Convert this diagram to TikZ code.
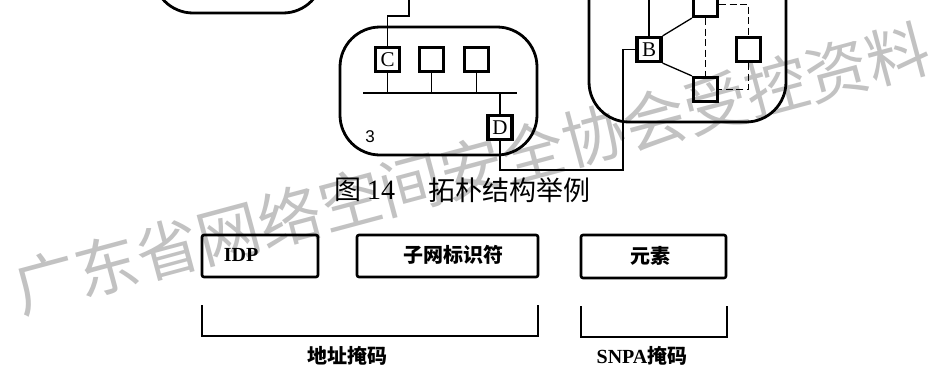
\documentclass[tikz,border=0pt]{standalone}
\usepackage{fontspec}
\setmainfont{Liberation Serif}
\newfontfamily\cjk{Noto Sans CJK SC}
\newfontfamily\sansf{Liberation Sans}
\begin{document}
\begin{tikzpicture}[x=1pt,y=-1pt,
  cloudbox/.style={line width=2.8pt, rounded corners=40pt},
  dev/.style={draw, line width=3.2pt, minimum width=24pt, minimum height=24pt, inner sep=0pt, font=\fontsize{21}{21}\selectfont},
  link/.style={line width=1.3pt},
  dlink/.style={line width=1.3pt, dash pattern=on 7pt off 3.5pt},
  field/.style={draw, line width=2.6pt, rounded corners=2pt, inner sep=0pt},
  bracketline/.style={line width=2.4pt},
  flabel/.style={font=\fontsize{20}{20}\selectfont\bfseries, inner sep=0pt},
  fcjk/.style={font=\cjk\fontsize{20}{20}\selectfont\bfseries, inner sep=0pt},
  capcjk/.style={font=\cjk\fontsize{27}{27}\selectfont, inner sep=0pt}
]
\useasboundingbox (0,0) rectangle (941,367);
\clip (0,0) rectangle (941,367);
\fill[white] (0,0) rectangle (941,367);

% watermark
\node[text=black!24, rotate=15, font=\cjk\fontsize{63}{63}\selectfont, inner sep=0pt] (wm) at (472,168) {广东省网络空间安全协会受控资料};

% clouds
\draw[cloudbox] (153,-60) rectangle (323,13);
\draw[cloudbox] (340,27) rectangle (537,155);
\draw[cloudbox] (589,-80) rectangle (786,122);

% network 3
\node[dev] (C) at (387.5,59.5) {C};
\node[dev] (n2) at (431.5,59.5) {};
\node[dev] (n3) at (476.5,59.5) {};
\node[dev] (D) at (500,127.5) {D};
\coordinate (busL) at (363,93);
\coordinate (busR) at (517,93);
\draw[link] (busL) -- (busR);
\draw[link] (C.south) -- (C.south |- busL);
\draw[link] (n2.south) -- (n2.south |- busL);
\draw[link] (n3.south) -- (n3.south |- busL);
\draw[link] (D.north) -- (D.north |- busL);
\node[font=\sansf\fontsize{17}{17}\selectfont, inner sep=0pt] (l3) at (370,137) {3};

% right network
\node[dev] (B) at (649,49.5) {B};
\node[dev] (T) at (705.5,4.5) {};
\node[dev] (R) at (748.5,49.5) {};
\node[dev] (Bot) at (705.5,89.5) {};
\draw[link] (B.north east) -- (T.south west);
\draw[link] (B.south east) -- (Bot.north west);
\draw[dlink] (T.south) -- (Bot.north);
\draw[dlink] (T.east) -| (R.north);
\draw[dlink] (R.south) |- (Bot.east);

% inter-network links
\coordinate (cBend) at (409,16);
\coordinate (cTop) at (409,-5);
\draw[link] (C.north) |- (cBend) -- (cTop);
\coordinate (bTop) at (649,-5);
\draw[link] (B.north) -- (bTop);
\coordinate (dCorner) at (623,170);
\draw[link] (D.south) |- (dCorner) |- (B.west);

% caption
\node[capcjk] (cap1) at (347.5,190) {图};
\node[font=\fontsize{28}{28}\selectfont, inner sep=0pt] (cap2) at (381,190) {14};
\node[capcjk] (cap3) at (509,190) {拓朴结构举例};

% address fields
\node[field, minimum width=116pt, minimum height=42pt] (idp) at (260,256) {};
\node[flabel] (idpt) at (241,255) {IDP};
\node[field, minimum width=181pt, minimum height=42pt] (sub) at (447.5,256) {};
\node[fcjk] (subt) at (453,255) {子网标识符};
\node[field, minimum width=145pt, minimum height=43pt] (elem) at (653.5,256.5) {};
\node[fcjk] (elemt) at (650,256) {元素};

% brackets
\coordinate (a1) at (202,305);
\coordinate (a2) at (538,305);
\draw[bracketline] (a1) -- ++(0,31) -| (a2);
\coordinate (s1) at (581,306);
\coordinate (s2) at (727,306);
\draw[bracketline] (s1) -- ++(0,31) -| (s2);
\node[fcjk] (addr) at (347,356) {地址掩码};
\node[font=\fontsize{20}{20}\selectfont, inner sep=0pt] (snpa) at (642,356) {\bfseries SNPA{\cjk\bfseries 掩码}};
\end{tikzpicture}
\end{document}
